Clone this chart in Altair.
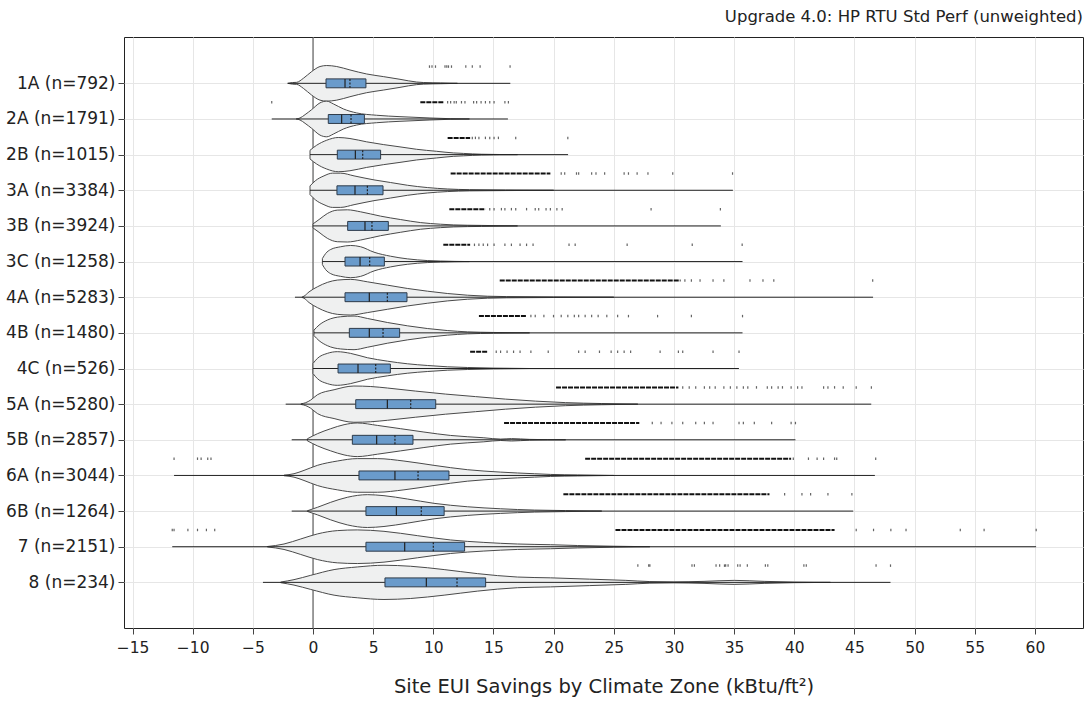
import altair as alt
import pandas as pd

# Climate zones and sample counts (top to bottom)
zones = ["1A", "2A", "2B", "3A", "3B", "3C", "4A", "4B", "4C", "5A", "5B", "6A", "6B", "7", "8"]
counts = [792, 1791, 1015, 3384, 3924, 1258, 5283, 1480, 526, 5280, 2857, 3044, 1264, 2151, 234]

# Summary statistics of site EUI savings (kBtu/ft2)
mins = [-2.1, -3.43, -0.25, -0.25, 0.0, 0.78, -1.5, 0.08, 0.0, -2.27, -1.77, -11.55, -1.77, -11.7, -4.16]
maxs = [16.4, 16.2, 21.2, 34.9, 33.9, 35.7, 46.55, 35.7, 35.4, 46.4, 40.1, 46.7, 44.9, 60.1, 48.0]
q1s = [1.08, 1.27, 2.02, 1.99, 2.88, 2.66, 2.66, 3.02, 2.08, 3.55, 3.27, 3.82, 4.4, 4.4, 5.98]
medians = [2.66, 2.38, 3.52, 3.49, 4.32, 3.91, 4.68, 4.68, 3.74, 6.18, 5.29, 6.81, 6.93, 7.62, 9.42]
means = [3.07, 3.16, 4.13, 4.52, 4.9, 4.71, 6.18, 5.82, 5.21, 8.12, 6.81, 8.73, 9.0, 10.0, 11.97]
q3s = [4.4, 4.27, 5.62, 5.82, 6.26, 5.93, 7.81, 7.2, 6.43, 10.2, 8.31, 11.3, 10.9, 12.6, 14.35]

# Kernel density profiles: (savings, relative density)
violins = {
    "1A": [(-2.1, 0), (-1.7, 0.8), (-1.36, 1), (-0.8, 5), (-0.11, 11.7), (0.58, 16.7), (1.14, 17.7),
           (1.97, 16.7), (3.07, 13.3), (4.46, 9.3), (5.84, 6.7), (7.23, 4), (8.61, 1.3), (9.2, 0.8),
           (10.6, 0.4), (12, 0)],
    "2A": [(-1.4, 0), (-1.08, 1), (-0.66, 4.3), (-0.11, 9.3), (0.58, 16), (1.14, 17.7), (1.69, 15),
           (2.52, 10), (3.63, 6), (5.29, 3.7), (7.23, 2.3), (9.72, 1), (11.4, 0.3), (13, 0)],
    "2B": [(-0.25, 4.3), (0.3, 9.3), (1.14, 14.3), (2.1, 17), (3.07, 16), (4.46, 12.7), (5.84, 10),
           (7.23, 7.7), (8.61, 5.3), (10.28, 3.3), (11.66, 1.7), (12.5, 1.2), (14, 0.4), (17, 0)],
    "3A": [(-0.25, 4.3), (0.22, 9.7), (0.91, 14.3), (1.61, 17), (2.3, 17), (3.41, 14.3), (5.07, 10.3),
           (6.45, 7.7), (7.84, 5), (9.5, 2.7), (11.16, 1.3), (13, 0.6), (16, 0.3), (20, 0)],
    "3B": [(0.0, 2), (0.5, 6.3), (1.19, 12.3), (2.02, 15.7), (2.85, 16), (3.96, 14), (5.62, 9.7),
           (7.29, 6.3), (8.95, 3.3), (10.6, 1.7), (11.7, 1), (14, 0.5), (17, 0)],
    "3C": [(0.78, 3), (1.05, 8), (1.47, 12), (2.3, 14.7), (3.13, 16), (3.96, 14.7), (5.07, 9.3),
           (6.45, 5.3), (7.84, 2.7), (9.5, 1), (10.6, 0.5), (13, 0)],
    "4A": [(-0.9, 0.3), (-0.75, 1), (-0.33, 5.3), (0.36, 10.3), (1.19, 14.7), (2.02, 17), (3.13, 17.7),
           (4.52, 15.3), (6.18, 12), (7.84, 8.7), (9.5, 6), (11.16, 3.7), (12.83, 2), (14.5, 1),
           (16.1, 0.6), (20, 0.3), (25, 0)],
    "4B": [(0.08, 2.7), (0.5, 7.7), (1.19, 12.7), (2.3, 16), (3.41, 16.7), (4.52, 14.3), (6.18, 10.3),
           (7.84, 7), (9.5, 4.3), (11.16, 2.3), (12.83, 1), (15, 0.4), (18, 0)],
    "4C": [(0.0, 5), (0.36, 10), (1.19, 15), (2.02, 16.7), (3.13, 15), (4.52, 10.7), (6.18, 7.3),
           (7.84, 4.7), (9.5, 3), (11.16, 1.7), (12.83, 1), (15, 0.4), (18, 0)],
    "5A": [(-1.0, 0.3), (-0.6, 1.5), (-0.2, 4), (0.36, 9.3), (1.75, 14.3), (3.4, 18), (4.8, 17.5),
           (6.2, 16), (8.5, 13), (11, 10), (13.5, 7.5), (16, 5), (18.5, 3), (21, 1.5), (24, 0.6), (27, 0)],
    "5B": [(-0.47, 1), (0.36, 6), (1.47, 11), (2.58, 15), (3.68, 16.7), (5.35, 14.3), (7.29, 11),
           (9.22, 7.7), (11.44, 4.3), (14.2, 2), (15.6, 0.7), (16.5, 1.2), (18, 0.4), (21, 0)],
    "6A": [(-2.41, 0.3), (-1.58, 1.7), (-0.75, 5), (0.36, 10), (2.02, 14.3), (3.68, 16.7), (5.35, 16.7),
           (7.56, 14.3), (10.06, 10), (12.83, 5.7), (15.6, 3.3), (18.4, 1.7), (19.75, 1), (22, 0.5), (25, 0)],
    "6B": [(-0.47, 0.3), (0.36, 3.7), (1.47, 8.7), (2.85, 13.7), (4.52, 16.3), (5.9, 15.3), (7.84, 12),
           (10.06, 7.7), (12.83, 4.3), (15.6, 2.3), (18.4, 1), (21, 0.5), (24, 0)],
    "7": [(-3.8, 0.2), (-2.41, 2.7), (-1.02, 7.7), (0.36, 12.7), (2.02, 16), (3.68, 16.7), (5.9, 15.3),
          (8.67, 11), (11.44, 6.7), (14.2, 4.3), (17.0, 2.7), (19.75, 2), (22, 1.2), (25, 0.5), (28, 0)],
    "8": [(-2.69, 0.3), (-1.58, 2.7), (-0.19, 7), (1.75, 12.7), (3.68, 15.3), (5.9, 17), (8.12, 16),
          (10.9, 12.7), (13.66, 8.7), (17.0, 5.3), (19.75, 4.5), (23, 3.2), (26, 2), (28, 0.8), (30, 0.5),
          (32.5, 1), (35, 2), (37.5, 1), (40, 0.3), (43, 0)],
}

# Dense runs of outliers: (from, to)
outlier_runs = {
    "2A": [(8.92, 10.9)],
    "2B": [(11.19, 13.06)],
    "3A": [(11.44, 19.73)],
    "3B": [(11.33, 14.33)],
    "3C": [(10.83, 13.06)],
    "4A": [(15.52, 30.55)],
    "4B": [(13.79, 17.75)],
    "4C": [(13.06, 14.51)],
    "5A": [(20.2, 30.37)],
    "5B": [(15.88, 27.12)],
    "6A": [(22.62, 39.74)],
    "6B": [(20.81, 37.94)],
    "7": [(25.14, 43.35)],
}

# Individual outliers
outlier_points = {
    "1A": [9.68, 9.89, 10.18, 10.97, 11.12, 11.26, 11.51, 12.7, 13.24, 13.89, 16.38],
    "2A": [-3.43, 11.19, 11.44, 11.73, 11.91, 12.34, 12.63, 13.35, 13.6, 13.97, 14.33, 14.69, 15.05,
           15.95, 16.24],
    "2B": [13.24, 13.5, 13.79, 14.33, 14.69, 15.05, 15.41, 16.85, 21.18],
    "3A": [20.63, 20.92, 21.9, 22.08, 23.16, 23.52, 24.24, 25.86, 26.22, 26.94, 27.84, 29.9, 34.87],
    "3B": [14.69, 15.05, 15.66, 15.95, 16.49, 16.85, 17.75, 18.47, 18.76, 19.37, 19.73, 20.27, 20.71,
           28.1, 33.86],
    "3C": [13.42, 13.79, 14.15, 14.51, 15.05, 15.95, 16.49, 17.21, 17.75, 18.29, 21.28, 21.79, 26.11,
           31.52, 35.67],
    "4A": [30.91, 31.45, 32.17, 33.25, 34.15, 36.32, 37.4, 38.3, 46.52],
    "4B": [18.11, 18.47, 19.19, 19.99, 20.63, 21.18, 21.72, 22.08, 22.62, 23.16, 23.7, 24.42, 25.32,
           26.22, 28.64, 31.45, 35.7],
    "4C": [15.23, 15.59, 16.13, 16.67, 17.21, 18.11, 19.55, 22.08, 22.62, 23.81, 24.78, 25.32, 25.86,
           26.4, 28.85, 30.37, 30.73, 33.25, 35.41],
    "5A": [30.73, 31.27, 31.81, 32.53, 32.97, 33.43, 34.15, 34.69, 35.23, 35.77, 36.14, 36.86, 37.76,
           38.12, 38.66, 39.02, 39.74, 40.28, 40.64, 42.44, 42.8, 43.35, 44.07, 45.15, 46.41],
    "5B": [28.2, 28.93, 29.83, 30.73, 31.81, 32.53, 33.25, 35.41, 35.77, 36.68, 38.12, 39.74, 40.1],
    "6A": [-11.55, -9.6, -9.3, -8.75, -8.48, 39.92, 41.18, 41.9, 42.44, 43.35, 43.53, 46.77],
    "6B": [39.2, 40.64, 41.36, 42.8, 44.79],
    "7": [-11.7, -11.55, -10.4, -9.6, -8.86, -8.17, 45.15, 46.59, 48.03, 49.29, 53.8, 55.78, 60.11],
    "8": [27.0, 27.9, 28.0, 31.5, 31.7, 33.5, 33.8, 34.2, 34.3, 34.5, 35.3, 35.5, 36.1, 37.6, 37.8,
          40.8, 41.0, 46.8, 48.0],
}

labels = [f"{z} (n={n})" for z, n in zip(zones, counts)]
x_ticks = list(range(-15, 61, 5))

# Geometry within a row (row spacing = 1 unit on the y scale)
DENSITY_TO_ROW = 0.5 / 17.7
BOX_HALF = 0.125
OUTLIER_OFFSET = 0.47

violin_rows = []
for i, z in enumerate(zones):
    for v, d in violins[z]:
        violin_rows.append({"zone": z, "x": v,
                            "lo": i - d * DENSITY_TO_ROW, "hi": i + d * DENSITY_TO_ROW})
violin_df = pd.DataFrame(violin_rows)

stats_df = pd.DataFrame({
    "zone": zones, "row": list(range(len(zones))),
    "min": mins, "max": maxs, "q1": q1s, "median": medians, "mean": means, "q3": q3s,
})
stats_df["box_top"] = stats_df["row"] - BOX_HALF
stats_df["box_bottom"] = stats_df["row"] + BOX_HALF

run_rows, point_rows = [], []
for i, z in enumerate(zones):
    for a, b in outlier_runs.get(z, []):
        run_rows.append({"zone": z, "x": a, "x2": b, "y": i - OUTLIER_OFFSET})
    for v in outlier_points.get(z, []):
        point_rows.append({"zone": z, "x": v, "y": i - OUTLIER_OFFSET})
runs_df = pd.DataFrame(run_rows)
points_df = pd.DataFrame(point_rows)

FONT = "DejaVu Sans"
label_expr = "[" + ",".join(f"'{s}'" for s in labels) + "][datum.value]"

x_scale = alt.Scale(domain=[-15.71, 64.0], nice=False, zero=False)
y_scale = alt.Scale(domain=[-1.3, 15.28], nice=False, zero=False, reverse=True)
x_axis = alt.Axis(values=x_ticks, title="Site EUI Savings by Climate Zone (kBtu/ft²)",
                  labelFontSize=15.5, titleFontSize=19.5, titleFontWeight="normal",
                  tickSize=6, labelPadding=6, titlePadding=22, grid=True)
y_axis = alt.Axis(values=list(range(len(zones))), labelExpr=label_expr, title=None,
                  labelFontSize=17, tickSize=6, labelPadding=3, grid=True)


def X(field):
    return alt.X(field, type="quantitative", scale=x_scale, axis=x_axis)


def Y(field):
    return alt.Y(field, type="quantitative", scale=y_scale, axis=y_axis)


zero_line = alt.Chart(pd.DataFrame({"x": [0]})).mark_rule(color="#444", strokeWidth=1).encode(
    x=X("x"))

violin = alt.Chart(violin_df).mark_area(
    orient="vertical", fill="#eff0f0", stroke="#4a4a4a", strokeWidth=1, interpolate="monotone"
).encode(x=X("x"), y=Y("lo"), y2="hi", detail="zone:N")

spine = alt.Chart(stats_df).mark_rule(color="#222", strokeWidth=1).encode(
    x=X("min"), x2="max", y=Y("row"))

box = alt.Chart(stats_df).mark_rect(fill="#6a9bcb", stroke="#2e3b4a", strokeWidth=1).encode(
    x=X("q1"), x2="q3", y=Y("box_top"), y2="box_bottom")

median = alt.Chart(stats_df).mark_rule(color="#222", strokeWidth=1.2).encode(
    x=X("median"), y=Y("box_top"), y2="box_bottom")

mean = alt.Chart(stats_df).mark_rule(color="#222", strokeWidth=1.2, strokeDash=[2, 1.5]).encode(
    x=X("mean"), y=Y("box_top"), y2="box_bottom")

runs = alt.Chart(runs_df).mark_rule(color="#111", strokeWidth=2, strokeDash=[5, 1]).encode(
    x=X("x"), x2="x2", y=Y("y"))

points = alt.Chart(points_df).mark_tick(orient="vertical", color="#222", size=2.5,
                                        thickness=1.2).encode(x=X("x"), y=Y("y"))

chart = alt.layer(zero_line, violin, spine, box, median, mean, runs, points).properties(
    width=959, height=591,
    background="white",
    title=alt.TitleParams("Upgrade 4.0: HP RTU Std Perf (unweighted)", anchor="end", fontSize=16.5,
                          fontWeight="normal", font=FONT, color="#222", offset=11),
    autosize=alt.AutoSizeParams(type="none"),
    padding={"left": 124, "top": 37, "right": 2, "bottom": 74},
).configure_view(stroke="#222", strokeWidth=1).configure_axis(
    labelFont=FONT, titleFont=FONT, labelColor="#222", titleColor="#222",
    tickColor="#444", gridColor="#e6e6e6", gridWidth=1, domain=False,
)

chart.save("out.html", embed_options={"renderer": "svg", "actions": False})
